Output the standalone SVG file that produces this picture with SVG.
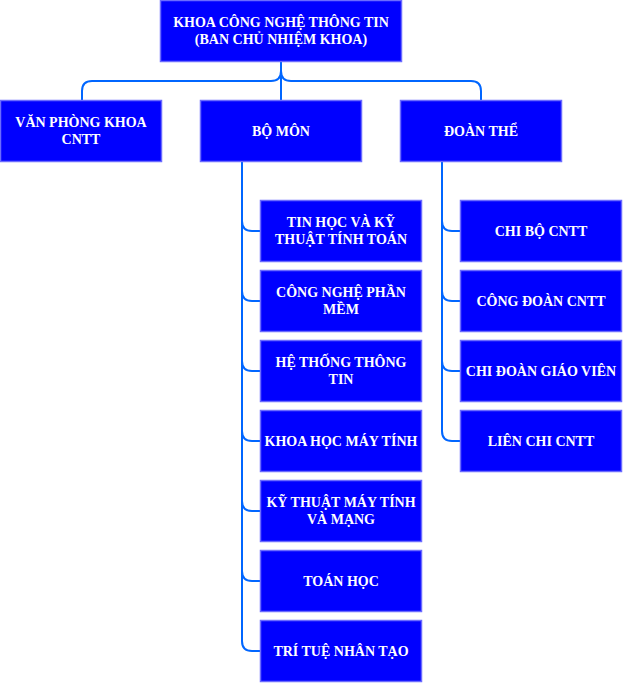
<svg xmlns="http://www.w3.org/2000/svg" width="623" height="683" viewBox="0 0 623 683">
<style>
.box{fill:#0000ff;stroke:#6b6bff;stroke-width:1.5}
.lbl{font-family:"Liberation Serif","Times New Roman",serif;font-weight:bold;font-size:14px;fill:#ffffff;text-anchor:middle}
.con{fill:none;stroke:#0066ff;stroke-width:2}
</style>
<rect width="623" height="683" fill="#ffffff"/>
<g id="connectors">
<path class="con" d="M281 62 V71 Q281 81 271 81 H92 Q82 81 82 91 V100"/>
<path class="con" d="M281 62 V71 Q281 81 291 81 H471 Q481 81 481 91 V100"/>
<path class="con" d="M281 71 V100"/>
<path class="con" d="M242 162 V641 Q242 651 252 651 H260"/>
<path class="con" d="M242 221 Q242 231 252 231 H260"/>
<path class="con" d="M242 291 Q242 301 252 301 H260"/>
<path class="con" d="M242 361 Q242 371 252 371 H260"/>
<path class="con" d="M242 431 Q242 441 252 441 H260"/>
<path class="con" d="M242 501 Q242 511 252 511 H260"/>
<path class="con" d="M242 571 Q242 581 252 581 H260"/>
<path class="con" d="M442 162 V431 Q442 441 452 441 H460"/>
<path class="con" d="M442 221 Q442 231 452 231 H460"/>
<path class="con" d="M442 291 Q442 301 452 301 H460"/>
<path class="con" d="M442 361 Q442 371 452 371 H460"/>
</g>
<g id="root"><rect class="box" x="160.5" y="0.5" width="241" height="61"/><text class="lbl" x="281" y="27">KHOA CÔNG NGHỆ THÔNG TIN</text><text class="lbl" x="281" y="44">(BAN CHỦ NHIỆM KHOA)</text></g>
<g id="vanphong"><rect class="box" x="0.5" y="100.5" width="161" height="61"/><text class="lbl" x="81" y="127">VĂN PHÒNG KHOA</text><text class="lbl" x="81" y="144">CNTT</text></g>
<g id="bomon"><rect class="box" x="200.5" y="100.5" width="161" height="61"/><text class="lbl" x="281" y="136">BỘ MÔN</text></g>
<g id="doanthe"><rect class="box" x="400.5" y="100.5" width="161" height="61"/><text class="lbl" x="481" y="136">ĐOÀN THỂ</text></g>
<g id="bm1"><rect class="box" x="260.5" y="200.5" width="161" height="61"/><text class="lbl" x="341" y="227">TIN HỌC VÀ KỸ</text><text class="lbl" x="341" y="244">THUẬT TÍNH TOÁN</text></g>
<g id="bm2"><rect class="box" x="260.5" y="270.5" width="161" height="61"/><text class="lbl" x="341" y="297">CÔNG NGHỆ PHẦN</text><text class="lbl" x="341" y="314">MỀM</text></g>
<g id="bm3"><rect class="box" x="260.5" y="340.5" width="161" height="61"/><text class="lbl" x="341" y="367">HỆ THỐNG THÔNG</text><text class="lbl" x="341" y="384">TIN</text></g>
<g id="bm4"><rect class="box" x="260.5" y="410.5" width="161" height="61"/><text class="lbl" x="341" y="446">KHOA HỌC MÁY TÍNH</text></g>
<g id="bm5"><rect class="box" x="260.5" y="480.5" width="161" height="61"/><text class="lbl" x="341" y="507">KỸ THUẬT MÁY TÍNH</text><text class="lbl" x="341" y="524">VÀ MẠNG</text></g>
<g id="bm6"><rect class="box" x="260.5" y="550.5" width="161" height="61"/><text class="lbl" x="341" y="586">TOÁN HỌC</text></g>
<g id="bm7"><rect class="box" x="260.5" y="620.5" width="161" height="61"/><text class="lbl" x="341" y="656">TRÍ TUỆ NHÂN TẠO</text></g>
<g id="dt1"><rect class="box" x="460.5" y="200.5" width="161" height="61"/><text class="lbl" x="541" y="236">CHI BỘ CNTT</text></g>
<g id="dt2"><rect class="box" x="460.5" y="270.5" width="161" height="61"/><text class="lbl" x="541" y="306">CÔNG ĐOÀN CNTT</text></g>
<g id="dt3"><rect class="box" x="460.5" y="340.5" width="161" height="61"/><text class="lbl" x="541" y="376">CHI ĐOÀN GIÁO VIÊN</text></g>
<g id="dt4"><rect class="box" x="460.5" y="410.5" width="161" height="61"/><text class="lbl" x="541" y="446">LIÊN CHI CNTT</text></g>
</svg>
